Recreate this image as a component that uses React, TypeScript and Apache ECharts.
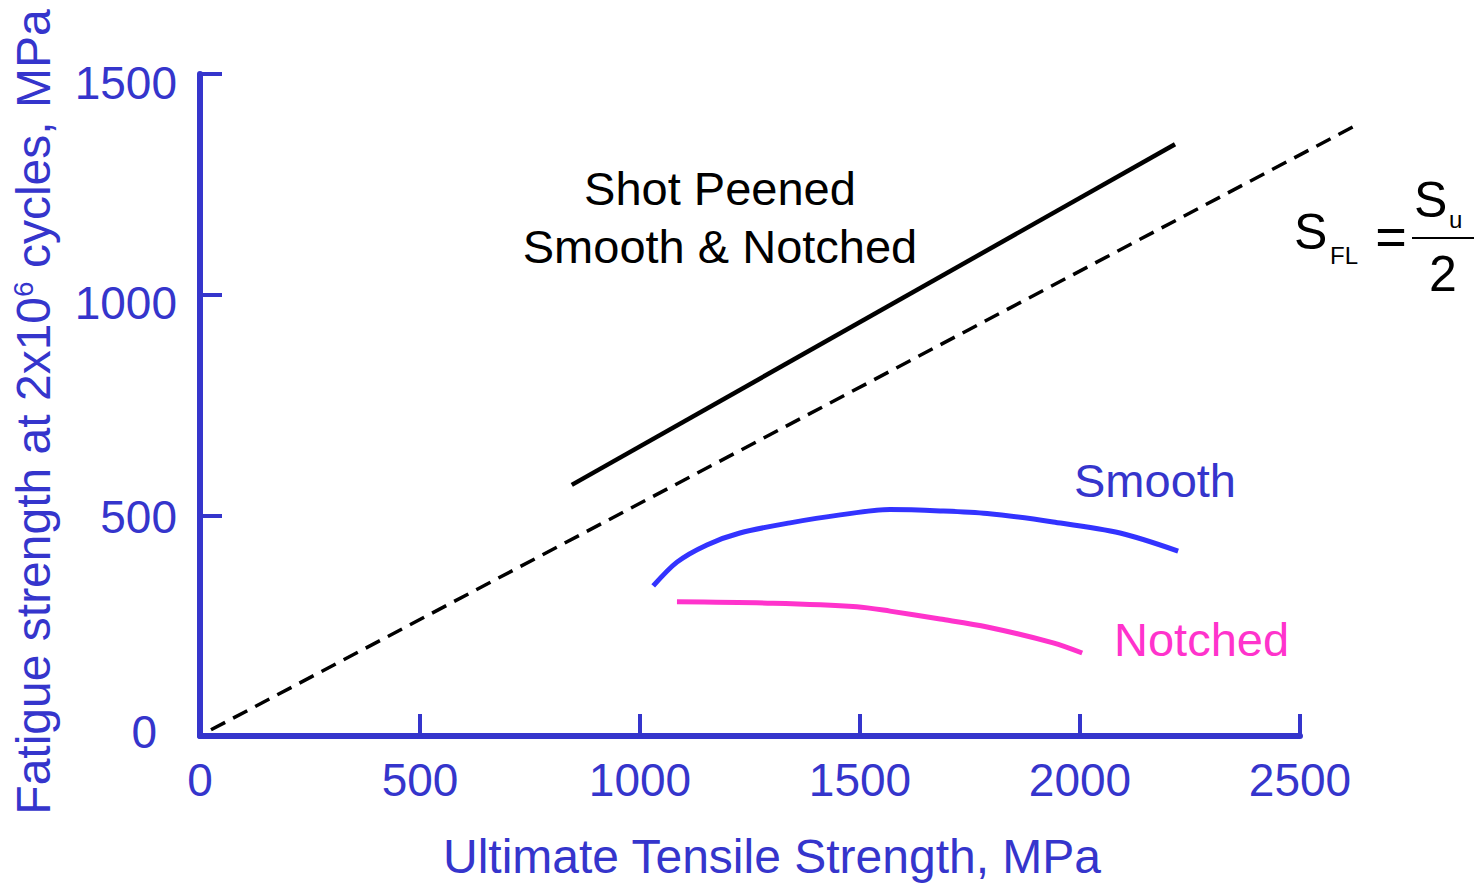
import React, { useEffect, useRef } from "react";
import * as echarts from "echarts";

const AXIS_BLUE = "#3535cc";
const FONT = "'Liberation Sans', Arial, Helvetica, sans-serif";

const xTicks = [0, 500, 1000, 1500, 2000, 2500];
const yTicks = [0, 500, 1000, 1500];

// S_FL = Su / 2 reference line (dashed)
const dashedLine: [number, number][] = [
  [25, 14],
  [2620, 1380],
];
// Shot peened smooth & notched
const shotPeened: [number, number][] = [
  [845, 569],
  [2216, 1341],
];
// Smooth specimens
const smoothCurve: [number, number][] = [
  [1030, 340],
  [1084, 394],
  [1152, 433],
  [1227, 460],
  [1341, 483],
  [1455, 501],
  [1568, 513],
  [1682, 510],
  [1789, 504],
  [1939, 485],
  [2091, 460],
  [2223, 419],
];
// Notched specimens
const notchedCurve: [number, number][] = [
  [1084, 304],
  [1302, 301],
  [1493, 293],
  [1568, 283],
  [1682, 265],
  [1789, 247],
  [1939, 211],
  [2005, 188],
];

const X_MAX = xTicks[xTicks.length - 1];
const Y_MAX = yTicks[yTicks.length - 1];
// extended hidden x range so the dashed line can run past the 2500 end of the axis
const X_MAX_EXT = 2700;

export default function App() {
  const ref = useRef<HTMLDivElement>(null);
  useEffect(() => {
    if (!ref.current) return;
    const chart = echarts.init(ref.current, null, { renderer: "svg" });
    const labelStyle = { fontSize: 46, fontFamily: FONT, color: AXIS_BLUE };
    const plotLeft = 200;
    const plotWidth = 1100;
    const extRight = 1480 - (plotLeft + (plotWidth * X_MAX_EXT) / X_MAX);
    chart.setOption({
      animation: false,
      backgroundColor: "#ffffff",
      grid: [
        { left: plotLeft, right: 1480 - plotLeft - plotWidth, top: 74, bottom: 149, containLabel: false },
        { left: plotLeft, right: extRight, top: 74, bottom: 149, containLabel: false },
      ],
      xAxis: [
        {
          type: "value",
          gridIndex: 0,
          min: 0,
          max: X_MAX,
          interval: 500,
          name: "Ultimate Tensile Strength, MPa",
          nameLocation: "middle",
          nameGap: 96,
          nameTextStyle: {
            fontSize: 48,
            fontFamily: FONT,
            color: AXIS_BLUE,
            padding: [0, 0, 0, 44],
          },
          axisLine: { show: true, onZero: false, lineStyle: { color: AXIS_BLUE, width: 6 } },
          axisTick: { show: true, inside: true, length: 22, lineStyle: { color: AXIS_BLUE, width: 4 } },
          axisLabel: { ...labelStyle, margin: 21, formatter: (v: number) => String(v) },
          splitLine: { show: false },
        },
        {
          type: "value",
          gridIndex: 1,
          min: 0,
          max: X_MAX_EXT,
          show: false,
        },
      ],
      yAxis: [
        {
          type: "value",
          gridIndex: 0,
          min: 0,
          max: Y_MAX,
          interval: 500,
          name: "Fatigue strength at 2x10{sup|6} cycles, MPa",
          nameLocation: "middle",
          nameRotate: 90,
          nameGap: 143,
          nameTextStyle: {
            fontSize: 48,
            fontFamily: FONT,
            color: AXIS_BLUE,
            padding: [0, 14, 0, 0],
            rich: {
              sup: { fontSize: 28, fontFamily: FONT, color: AXIS_BLUE, verticalAlign: "top" },
            },
          },
          axisLine: { show: true, onZero: false, lineStyle: { color: AXIS_BLUE, width: 6 } },
          axisTick: { show: true, inside: true, length: 22, lineStyle: { color: AXIS_BLUE, width: 4 } },
          axisLabel: {
            ...labelStyle,
            margin: 23,
            formatter: (v: number) => `{y${v}|${v}}`,
            rich: {
              y0: { ...labelStyle, padding: [0, 20, 8, 0] },
              y500: { ...labelStyle, padding: [4, 0, 0, 0] },
              y1000: { ...labelStyle, padding: [16, 0, 0, 0] },
              y1500: { ...labelStyle, padding: [18, 0, 0, 0] },
            },
          },
          splitLine: { show: false },
        },
        {
          type: "value",
          gridIndex: 1,
          min: 0,
          max: Y_MAX,
          show: false,
        },
      ],
      series: [
        {
          name: "Su/2",
          type: "line",
          xAxisIndex: 1,
          yAxisIndex: 1,
          data: dashedLine,
          symbol: "none",
          lineStyle: { color: "#000000", width: 3.5, type: [16, 9] },
        },
        {
          name: "Shot Peened",
          type: "line",
          data: shotPeened,
          symbol: "none",
          lineStyle: { color: "#000000", width: 4.5 },
        },
        {
          name: "Smooth",
          type: "line",
          data: smoothCurve,
          symbol: "none",
          smooth: 0.3,
          lineStyle: { color: "#3333ff", width: 5 },
        },
        {
          name: "Notched",
          type: "line",
          data: notchedCurve,
          symbol: "none",
          smooth: 0.3,
          lineStyle: { color: "#ff33cc", width: 5 },
        },
      ],
      graphic: [
        {
          type: "text",
          x: 720,
          y: 188,
          style: { text: "Shot Peened", fontSize: 47, fontFamily: FONT, fill: "#000", align: "center", verticalAlign: "middle" },
        },
        {
          type: "text",
          x: 720,
          y: 246,
          style: { text: "Smooth & Notched", fontSize: 47, fontFamily: FONT, fill: "#000", align: "center", verticalAlign: "middle" },
        },
        {
          type: "text",
          x: 1074,
          y: 480,
          style: { text: "Smooth", fontSize: 47, fontFamily: FONT, fill: AXIS_BLUE, align: "left", verticalAlign: "middle" },
        },
        {
          type: "text",
          x: 1114,
          y: 639,
          style: { text: "Notched", fontSize: 47, fontFamily: FONT, fill: "#ff33cc", align: "left", verticalAlign: "middle" },
        },
        // formula S_FL = S_u / 2
        {
          type: "text",
          x: 1294,
          y: 232,
          style: { text: "S", fontSize: 50, fontFamily: FONT, fill: "#000", align: "left", verticalAlign: "middle" },
        },
        {
          type: "text",
          x: 1330,
          y: 255,
          style: { text: "FL", fontSize: 24, fontFamily: FONT, fill: "#000", align: "left", verticalAlign: "middle" },
        },
        {
          type: "text",
          x: 1391,
          y: 236,
          style: { text: "=", fontSize: 54, fontFamily: FONT, fill: "#000", align: "center", verticalAlign: "middle" },
        },
        {
          type: "line",
          shape: { x1: 1412, y1: 238, x2: 1474, y2: 238 },
          style: { stroke: "#000", lineWidth: 2 },
        },
        {
          type: "text",
          x: 1414,
          y: 200,
          style: { text: "S", fontSize: 50, fontFamily: FONT, fill: "#000", align: "left", verticalAlign: "middle" },
        },
        {
          type: "text",
          x: 1449,
          y: 219,
          style: { text: "u", fontSize: 24, fontFamily: FONT, fill: "#000", align: "left", verticalAlign: "middle" },
        },
        {
          type: "text",
          x: 1443,
          y: 274,
          style: { text: "2", fontSize: 50, fontFamily: FONT, fill: "#000", align: "center", verticalAlign: "middle" },
        },
      ],
    });
    return () => chart.dispose();
  }, []);
  return (
    <div
      ref={ref}
      style={{ position: "absolute", left: 0, top: 0, width: 1480, height: 885, background: "#fff" }}
    />
  );
}
